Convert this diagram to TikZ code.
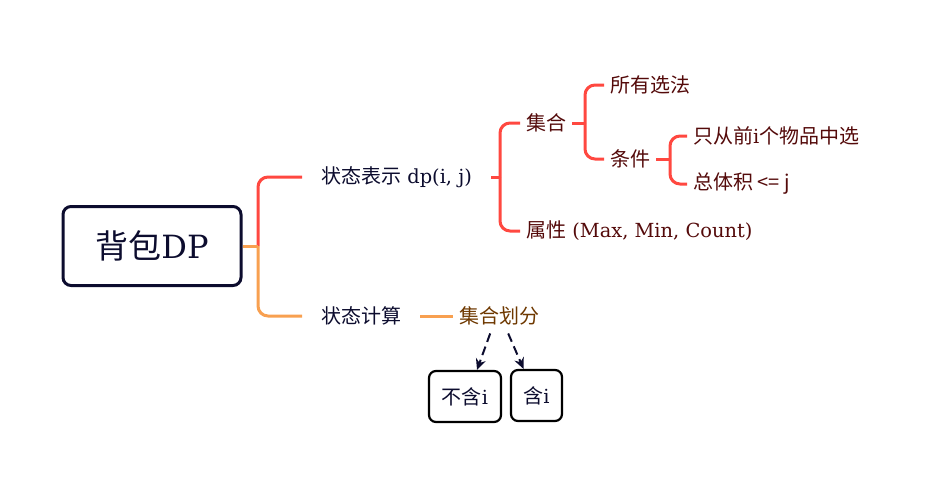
\documentclass[tikz,border=0pt]{standalone}
\usepackage{fontspec}
\setmainfont{DejaVu Serif}[Scale=0.97]
\newfontfamily\cjk{Noto Sans CJK SC}
\usetikzlibrary{arrows.meta,calc}
\definecolor{navy}{RGB}{12,12,46}
\definecolor{mred}{RGB}{255,72,64}
\definecolor{morange}{RGB}{248,160,80}
\definecolor{maroon}{RGB}{84,10,10}
\definecolor{brownish}{RGB}{110,56,0}
\tikzset{
  rootbox/.style={draw=navy,line width=3pt,rounded corners=8pt,minimum width=178pt,minimum height=79pt,inner sep=0pt,font=\fontsize{33}{36}\selectfont,text=navy},
  lone/.style={anchor=west,inner xsep=19pt,inner ysep=2pt,font=\fontsize{20}{22}\selectfont,text=navy},
  ltwo/.style={anchor=west,inner xsep=6pt,inner ysep=2pt,font=\fontsize{20}{22}\selectfont,text=maroon},
  lsplit/.style={anchor=west,inner xsep=6pt,inner ysep=2pt,font=\fontsize{20}{22}\selectfont,text=brownish},
  leafbox/.style={draw=black,line width=2.2pt,rounded corners=7pt,inner sep=0pt,font=\fontsize{20}{22}\selectfont,text=navy},
  redline/.style={draw=mred,line width=3pt,rounded corners=10pt},
  orline/.style={draw=morange,line width=3pt,rounded corners=10pt},
  dasharrow/.style={draw=navy,line width=2pt,dash pattern=on 9pt off 5pt,-{Stealth[length=11pt,width=10pt]}}
}
\begin{document}
\begin{tikzpicture}[x=1pt,y=-1pt]
\useasboundingbox (0,0) rectangle (929,487);
% root
\node[rootbox] (root) at (152,246) {{\cjk 背包}DP};
% level 1
\node[lone] (state) at (302,177) {{\cjk 状态表示} dp(i, j)};
\node[lone] (calc) at (302,316) {{\cjk 状态计算}};
% level 2
\node[ltwo] (set) at (520,123) {{\cjk 集合}};
\node[ltwo] (attr) at (520,231) {{\cjk 属性} (Max, Min, Count)};
% level 3
\node[ltwo] (all) at (604,85) {{\cjk 所有选法}};
\node[ltwo] (cond) at (604,159) {{\cjk 条件}};
% level 4
\node[ltwo] (front) at (687,136) {{\cjk 只从前}i{\cjk 个物品中选}};
\node[ltwo] (vol) at (687,184) {{\cjk 总体积 <= j}};
% split
\node[lsplit] (split) at (453,316) {{\cjk 集合划分}};
\node[leafbox,minimum width=72pt,minimum height=51pt] (no) at (465,396.5) {{\cjk 不含}i};
\node[leafbox,minimum width=51pt,minimum height=51pt] (yes) at (536.5,395.5) {{\cjk 含}i};
% junctions
\coordinate (j0) at (258,246);
\coordinate (j1) at (500,177);
\coordinate (j2) at (585,123);
\coordinate (j3) at (670,159);
% connectors
\draw[redline] (j0) |- (state.west);
\draw[orline] (j0) |- (calc.west);
\draw[morange,line width=3pt] (root.east) -- (j0);
\draw[redline] (state.east) -- (j1);
\draw[redline] (j1) |- (set.west);
\draw[redline] (j1) |- (attr.west);
\draw[redline] (set.east) -- (j2);
\draw[redline] (j2) |- (all.west);
\draw[redline] (j2) |- (cond.west);
\draw[redline] (cond.east) -- (j3);
\draw[redline] (j3) |- (front.west);
\draw[redline] (j3) |- (vol.west);
\draw[orline] (calc.east) -- (split.west);
\draw[dasharrow] ([xshift=-9pt,yshift=-6pt]split.south) -- ([xshift=12pt]no.north);
\draw[dasharrow] ([xshift=9pt,yshift=-6pt]split.south) -- ([xshift=-13pt]yes.north);
\end{tikzpicture}
\end{document}
